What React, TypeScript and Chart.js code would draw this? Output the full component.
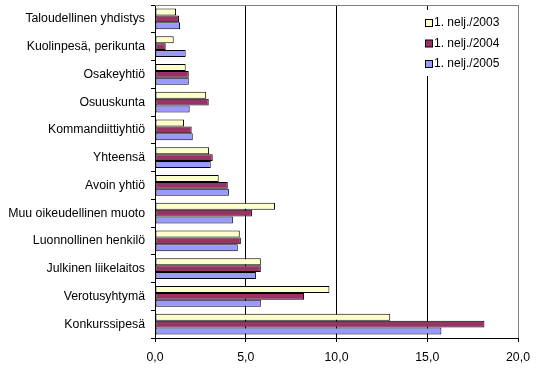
import React, { useEffect, useRef } from "react";
import { Chart, registerables } from "chart.js";

Chart.register(...registerables);

const categories = [
  "Taloudellinen yhdistys",
  "Kuolinpesä, perikunta",
  "Osakeyhtiö",
  "Osuuskunta",
  "Kommandiittiyhtiö",
  "Yhteensä",
  "Avoin yhtiö",
  "Muu oikeudellinen muoto",
  "Luonnollinen henkilö",
  "Julkinen liikelaitos",
  "Verotusyhtymä",
  "Konkurssipesä",
];

const series2003 = [1.16, 1.03, 1.69, 2.82, 1.6, 2.98, 3.51, 6.61, 4.67, 5.83, 9.61, 12.96];
const series2004 = [1.32, 0.59, 1.86, 2.96, 2.02, 3.18, 4.01, 5.34, 4.73, 5.83, 8.21, 18.15];
const series2005 = [1.38, 1.69, 1.86, 1.91, 2.08, 3.07, 4.07, 4.29, 4.56, 5.56, 5.83, 15.78];

const seriesNames = ["1. nelj./2003", "1. nelj./2004", "1. nelj./2005"];
const xTicks = [0, 5, 10, 15, 20];

const FONT = "Liberation Sans, Arial, sans-serif";

const frame = {
  id: "frame",
  beforeDatasetsDraw(chart: any) {
    const { ctx, chartArea } = chart;
    ctx.save();
    ctx.strokeStyle = "#808080";
    ctx.lineWidth = 1;
    ctx.beginPath();
    ctx.moveTo(chartArea.left, Math.round(chartArea.top) + 0.5);
    ctx.lineTo(Math.round(chartArea.right) + 0.5, Math.round(chartArea.top) + 0.5);
    ctx.lineTo(Math.round(chartArea.right) + 0.5, chartArea.bottom);
    ctx.stroke();
    ctx.restore();
  },
};

const insideLegend = {
  id: "insideLegend",
  afterDraw(chart: any) {
    const { ctx, chartArea } = chart;
    const x0 = chartArea.right - 94;
    const y0 = chartArea.top + 5;
    ctx.save();
    ctx.fillStyle = "#ffffff";
    ctx.fillRect(x0, y0, 92, 66);
    ctx.font = `12px ${FONT}`;
    ctx.textBaseline = "middle";
    chart.data.datasets.forEach((ds: any, i: number) => {
      const cy = y0 + 13 + i * 20.5;
      ctx.fillStyle = ds.backgroundColor;
      ctx.fillRect(x0 + 1.5, cy - 3.5, 7, 7);
      ctx.strokeStyle = "#000";
      ctx.lineWidth = 1;
      ctx.strokeRect(x0 + 1.5, cy - 3.5, 7, 7);
      ctx.fillStyle = "#000";
      ctx.fillText(ds.label, x0 + 10, cy);
    });
    ctx.restore();
  },
};

export default function App() {
  const ref = useRef<HTMLCanvasElement>(null);
  useEffect(() => {
    const chart = new Chart(ref.current!, {
      type: "bar",
      data: {
        labels: categories,
        datasets: [
          { label: seriesNames[0], data: series2003, backgroundColor: "#FFFFCC" },
          { label: seriesNames[1], data: series2004, backgroundColor: "#993366" },
          { label: seriesNames[2], data: series2005, backgroundColor: "#9999FF" },
        ].map((d) => ({
          ...d,
          borderColor: "#000000",
          borderWidth: 1,
          borderSkipped: false,
          categoryPercentage: 0.74,
          barPercentage: 1,
        })),
      },
      options: {
        indexAxis: "y",
        animation: false,
        responsive: false,
        maintainAspectRatio: false,
        layout: { padding: { top: 5, right: 18, left: 0, bottom: 0 } },
        plugins: {
          legend: { display: false },
          tooltip: { enabled: false },
        },
        scales: {
          x: {
            min: 0,
            max: 20,
            afterBuildTicks: (s: any) => {
              s.ticks = xTicks.map((v) => ({ value: v }));
            },
            afterFit: (s: any) => {
              s.height = 35;
              s.paddingLeft = 0;
              s.paddingRight = 0;
            },
            ticks: {
              color: "#000",
              font: { family: FONT, size: 12.3 },
              padding: 8,
              callback: (v: any) => Number(v).toFixed(1).replace(".", ","),
            },
            grid: {
              color: (c: any) => (c.tick && c.tick.value === 20 ? "#808080" : "#000000"),
              tickColor: "#000000",
              tickLength: 4,
              lineWidth: 1,
            },
            border: { color: "#000000" },
          },
          y: {
            afterFit: (s: any) => {
              s.width = 155;
              s.paddingTop = 0;
              s.paddingBottom = 0;
            },
            ticks: {
              color: "#000",
              font: { family: FONT, size: 12.3 },
              padding: 6,
            },
            grid: {
              offset: true,
              drawOnChartArea: false,
              tickLength: 4,
              tickColor: "#000000",
            },
            border: { color: "#000000" },
          },
        },
      },
      plugins: [frame, insideLegend],
    });
    return () => chart.destroy();
  }, []);
  return (
    <div style={{ position: "absolute", left: 0, top: 0, width: 536, height: 373, background: "#fff" }}>
      <canvas ref={ref} width={536} height={373} style={{ width: 536, height: 373 }} />
    </div>
  );
}
